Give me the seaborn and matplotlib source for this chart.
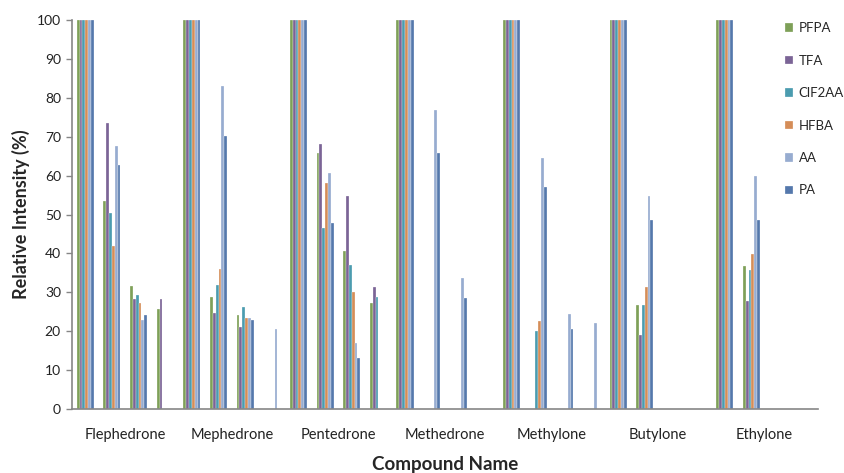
import numpy as np
import pandas as pd
import matplotlib
matplotlib.use("Agg")
import matplotlib.pyplot as plt
import seaborn as sns

# compounds, each with 4 fragment-ion slots
compounds = ["Flephedrone", "Mephedrone", "Pentedrone", "Methedrone",
             "Methylone", "Butylone", "Ethylone"]
reagents = ["PFPA", "TFA", "ClF2AA", "HFBA", "AA", "PA"]
legend_labels = ["PFPA", "TFA", "ClF2AA", "HFBA", "AA", "PA"]
colors = ["#7FAC4C", "#7A5C9E", "#3AA6C0", "#EA8A43", "#8EA9D9", "#4775BA"]

nan = np.nan
# values per reagent, 4 slots per compound (blank = no peak)
pfpa = [100, 53.6, 31.7, 25.7,  100, 28.9, 24.1, nan,  100, 65.8, 40.7, 27.3,
        100, nan, nan, nan,  100, nan, nan, nan,  100, 26.8, nan, nan,  100, 36.8, nan, nan]
tfa = [100, 73.6, 28.4, 28.4,  100, 24.7, 21.0, nan,  100, 68.2, 54.7, 31.3,
       100, nan, nan, nan,  100, nan, nan, nan,  100, 18.9, nan, nan,  100, 27.7, nan, nan]
clf2aa = [100, 50.5, 29.4, nan,  100, 32.0, 26.1, nan,  100, 46.5, 37.1, 28.9,
          100, nan, nan, nan,  100, 20.1, nan, nan,  100, 26.8, nan, nan,  100, 35.8, nan, nan]
hfba = [100, 41.8, 27.3, nan,  100, 36.0, 23.4, nan,  100, 58.0, 30.1, nan,
        100, nan, nan, nan,  100, 22.5, nan, nan,  100, 31.3, nan, nan,  100, 39.9, nan, nan]
aa = [100, 67.5, 22.9, nan,  100, 83.0, 23.4, 20.6,  100, 60.7, 17.0, nan,
      100, 76.9, 33.6, nan,  100, 64.6, 24.3, 22.2,  100, 54.7, nan, nan,  100, 60.0, nan, nan]
pa = [100, 62.8, 24.1, nan,  100, 70.2, 22.9, nan,  100, 47.7, 13.1, nan,
      100, 65.8, 28.5, nan,  100, 57.1, 20.5, nan,  100, 48.5, nan, nan,  100, 48.5, nan, nan]

series = [pfpa, tfa, clf2aa, hfba, aa, pa]
slots = [f"{c} {i}" for c in compounds for i in range(1, 5)]

rows = []
for r, vals in zip(reagents, series):
    for s, v in zip(slots, vals):
        rows.append({"slot": s, "reagent": r, "value": v})
df = pd.DataFrame(rows)

sns.set_style("white")
plt.rcParams["font.family"] = ["Lato", "DejaVu Sans"]

fig = plt.figure(figsize=(8.45, 4.73), dpi=100)
ax = fig.add_axes([0.0852, 0.1353, 0.8828, 0.8224])

sns.barplot(data=df, x="slot", y="value", hue="reagent", order=slots,
            hue_order=reagents, palette=colors, width=0.64, errorbar=None,
            edgecolor="white", linewidth=0.2, ax=ax)

ax.set_xlim(-0.5, len(slots) - 0.5)
ax.set_ylim(0, 100)
ax.set_yticks(range(0, 101, 10))
ax.set_xticks([4 * i + 1.5 for i in range(len(compounds))])
ax.set_xticklabels(compounds, fontsize=10.5, color="#222222")
ax.tick_params(axis="x", length=0, pad=14)
ax.tick_params(axis="y", direction="out", length=4, width=1, color="#868686",
               labelsize=10, labelcolor="#222222", pad=4, left=True)

for side in ["top", "right"]:
    ax.spines[side].set_visible(False)
for side in ["left", "bottom"]:
    ax.spines[side].set_color("#868686")
    ax.spines[side].set_linewidth(1.2)

ax.set_xlabel("Compound Name", fontsize=13.5, fontweight="bold", labelpad=10)
ax.set_ylabel("Relative Intensity (%)", fontsize=13, fontweight="bold", labelpad=5)

handles, _ = ax.get_legend_handles_labels()
ax.legend(handles, legend_labels, loc="upper left", bbox_to_anchor=(0.929, 0.953),
          bbox_transform=fig.transFigure, frameon=False, fontsize=9.5,
          handlelength=0.6, handleheight=0.6, handletextpad=0.45, labelspacing=1.55,
          borderaxespad=0, borderpad=0)

fig.savefig("out.png", dpi=100)
